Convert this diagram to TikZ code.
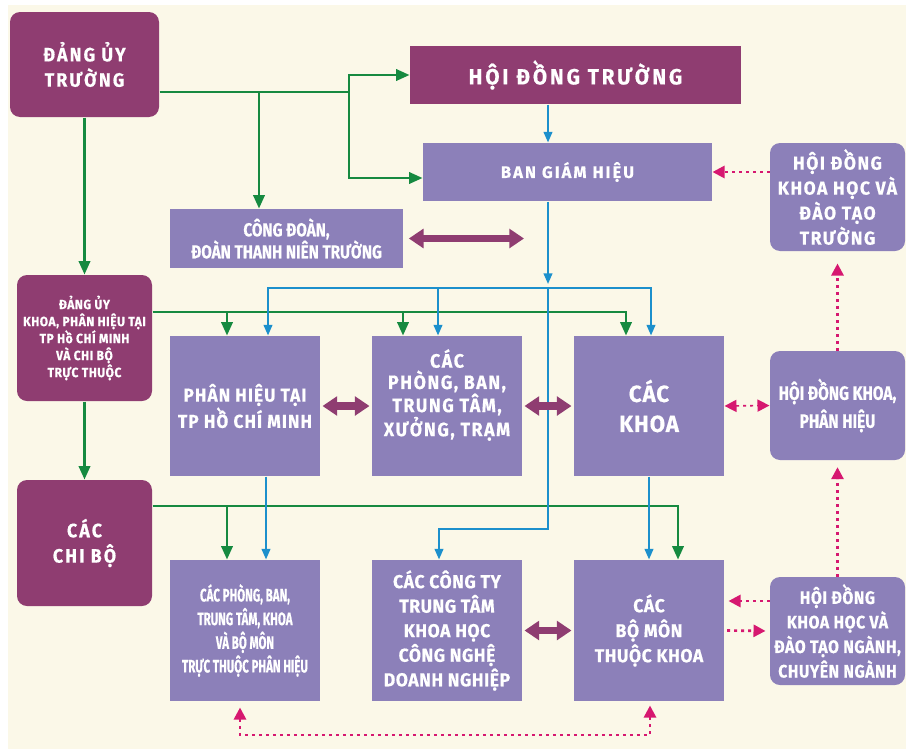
\documentclass[tikz,border=0pt]{standalone}
\usepackage{fontspec}
\setmainfont{Fira Sans}
\newfontfamily\chu{Fira Sans}[FakeBold=0.5]
\usetikzlibrary{arrows.meta,calc}

\definecolor{nen}{RGB}{251,248,232}
\definecolor{dohong}{RGB}{143,61,113}
\definecolor{tim}{RGB}{140,128,185}
\definecolor{xanhla}{RGB}{22,138,64}
\definecolor{xanhduong}{RGB}{28,144,204}
\definecolor{hong}{RGB}{214,24,112}

\tikzset{every picture/.style={line width=0.75pt},
  kt/.style 2 args={minimum width=#1*0.75pt, minimum height=#2*0.75pt},
  dang/.style={fill=dohong, text=white, rounded corners=7.5pt, align=center, inner sep=0pt},
  hop/.style={fill=tim, text=white, align=center, inner sep=0pt},
  hoptron/.style={hop, rounded corners=7.5pt},
  xanh/.style={draw=xanhla, line width=1.8pt, -{Triangle[length=10pt,width=8.5pt]}},
  lam/.style={draw=xanhduong, line width=1.5pt, -{Triangle[length=8pt,width=6.5pt]}},
  hai/.style={draw=dohong, line width=5.5pt, {Triangle[length=11pt,width=14pt]}-{Triangle[length=11pt,width=14pt]}, shorten <=1.5pt, shorten >=1.5pt},
  cham/.style={draw=hong, line width=2pt, dash pattern=on 2.25pt off 3pt, -{Triangle[length=9pt,width=9pt]}},
  chamkep/.style={cham, {Triangle[length=9pt,width=9pt]}-{Triangle[length=9pt,width=9pt]}},
}

\begin{document}
\begin{tikzpicture}[x=0.75pt,y=0.75pt,yscale=-1,xscale=1]
\useasboundingbox (0,0) rectangle (906,753);
%Shape: Rectangle (background)
\fill [nen] (8,5) rectangle (906,749);

% Text Node
\node [dang, kt={149}{105}, font={\chu\bfseries\fontsize{14.5}{19}\selectfont\addfontfeature{FakeStretch=0.92,LetterSpace=11}}] (dut) at (84.5,64.5) {ĐẢNG ỦY\\TRƯỜNG};
% Text Node
\node [dang, rounded corners=0pt, kt={331}{58}, font={\chu\bfseries\fontsize{16.5}{19}\selectfont\addfontfeature{FakeStretch=0.94,LetterSpace=13}}] (hdt) at (575.5,75) {HỘI ĐỒNG TRƯỜNG};
% Text Node
\node [hop, kt={289}{58}, font={\chu\bfseries\fontsize{12.5}{15}\selectfont\addfontfeature{LetterSpace=12}}] (bgh) at (567.5,172) {BAN GIÁM HIỆU};
% Text Node
\node [hop, kt={233}{59}, font={\chu\bfseries\fontsize{14}{16.5}\selectfont\addfontfeature{FakeStretch=0.82}}] (cd) at (286.5,238.5) {CÔNG ĐOÀN,\\ĐOÀN THANH NIÊN TRƯỜNG};
% Text Node
\node [hoptron, kt={135}{108}, font={\chu\bfseries\fontsize{14}{18.75}\selectfont\addfontfeature{FakeStretch=0.94,LetterSpace=8}}] (hdkhdt) at (837.5,197) {HỘI ĐỒNG\\KHOA HỌC VÀ\\ĐÀO TẠO\\TRƯỜNG};
% Text Node
\node [dang, kt={135}{126}, font={\chu\bfseries\fontsize{10}{12.75}\selectfont\addfontfeature{FakeStretch=0.9,LetterSpace=4}}] (duk) at (84.5,338) {ĐẢNG ỦY\\KHOA, PHÂN HIỆU TẠI\\TP Hồ CHÍ MINH\\VÀ CHI BỘ\\TRỰC THUỘC};
% Text Node
\node [hop, kt={150}{140}, font={\chu\bfseries\fontsize{14}{15.5}\selectfont\addfontfeature{FakeStretch=0.92,LetterSpace=6}}] (ph) at (245,406) {PHÂN HIỆU TẠI\\TP HỒ CHÍ MINH};
% Text Node
\node [hop, kt={150}{140}, font={\chu\bfseries\fontsize{14.5}{16}\selectfont\addfontfeature{FakeStretch=0.92,LetterSpace=8}}] (cpb) at (447,406) {CÁC\\PHÒNG, BAN,\\TRUNG TÂM,\\XƯỞNG, TRẠM\\[4pt]};
% Text Node
\node [hop, kt={150}{140}, font={\chu\bfseries\fontsize{17.5}{22.5}\selectfont\addfontfeature{FakeStretch=0.95,LetterSpace=4}}] (ck) at (649,406) {CÁC\\KHOA};
% Text Node
\node [hoptron, kt={135}{109}, font={\chu\bfseries\fontsize{14.5}{21}\selectfont\addfontfeature{FakeStretch=0.8}}] (hdkph) at (837.5,405.5) {HỘI ĐỒNG KHOA,\\PHÂN HIỆU};
% Text Node
\node [dang, kt={135}{126}, font={\chu\bfseries\fontsize{14.5}{19}\selectfont\addfontfeature{FakeStretch=0.92,LetterSpace=11}}] (ccb) at (84.5,543) {CÁC\\CHI BỘ};
% Text Node
\node [hop, kt={150}{141}, font={\chu\bfseries\fontsize{13.5}{17.75}\selectfont\addfontfeature{FakeStretch=0.64}}] (cpbph) at (245,630.5) {CÁC PHÒNG, BAN,\\TRUNG TÂM, KHOA\\VÀ BỘ MÔN\\TRỰC THUỘC PHÂN HIỆU};
% Text Node
\node [hop, kt={150}{141}, font={\chu\bfseries\fontsize{14}{18.4}\selectfont\addfontfeature{FakeStretch=0.94,LetterSpace=3}}] (cct) at (447,630.5) {CÁC CÔNG TY\\TRUNG TÂM\\KHOA HỌC\\CÔNG NGHỆ\\DOANH NGHIỆP};
% Text Node
\node [hop, kt={150}{141}, font={\chu\bfseries\fontsize{14}{18.75}\selectfont\addfontfeature{FakeStretch=0.94,LetterSpace=3}}] (cbm) at (649,630.5) {CÁC\\BỘ MÔN\\THUỘC KHOA};
% Text Node
\node [hoptron, kt={135}{108}, font={\chu\bfseries\fontsize{13.5}{18.4}\selectfont\addfontfeature{FakeStretch=0.88,LetterSpace=3}}] (hdng) at (837.5,631) {HỘI ĐỒNG\\KHOA HỌC VÀ\\ĐÀO TẠO NGÀNH,\\CHUYÊN NGÀNH};

% green lines
\coordinate (g1) at (349,92);
\coordinate (g2) at (259,92);
\draw [xanh, -] (dut.east |- g1) -- (g1);
\draw [xanh] (g1) |- (hdt.west);
\draw [xanh] (g1) |- ([yshift=4.5pt]bgh.west);
\draw [xanh] (g2) -- (g2 |- cd.north);
\draw [xanh] (dut.south) -- (duk.north);
\draw [xanh] (duk.south) -- (ccb.north);
\coordinate (g3) at (626,312);
\coordinate (t1) at ($(ph.north)+(-18,0)$);
\coordinate (t2) at ($(cpb.north)+(-44,0)$);
\draw [xanh] (duk.east |- g3) -- (g3) -- (g3 |- ck.north);
\draw [xanh] (t1 |- g3) -- (t1);
\draw [xanh] (t2 |- g3) -- (t2);
\coordinate (g4) at (678,506);
\coordinate (t3) at ($(cpbph.north)+(-18,0)$);
\draw [xanh] (ccb.east |- g4) -- (g4) -- (g4 |- cbm.north);
\draw [xanh] (t3 |- g4) -- (t3);

% blue lines
\coordinate (b0) at (548,288);
\coordinate (b1) at (548,529);
\coordinate (t4) at ($(ph.north)+(23,0)$);
\coordinate (t5) at ($(cpb.north)+(-9,0)$);
\coordinate (t6) at ($(ck.north)+(2,0)$);
\coordinate (t7) at ($(cct.north)+(-8,0)$);
\coordinate (t8) at ($(ph.south)+(21,0)$);
\draw [lam] (b0 |- hdt.south) -- (b0 |- bgh.north);
\draw [lam] (b0 |- bgh.south) -- ($(b0)+(0,-4)$);
\draw [lam] (b0) -| (t4);
\draw [lam] (b0) -| (t6);
\draw [lam] (t5 |- b0) -- (t5);
\draw [lam] (b0) -- (b1) -| (t7);
\draw [lam] (t8) -- (t8 |- cpbph.north);
\draw [lam] (ck.south) -- (cbm.north);

% double arrows
\coordinate (cdr) at (526,238.5);
\draw [hai, shorten <=4pt] (cd.east) -- (cdr);
\draw [hai] (ph.east) -- (cpb.west);
\draw [hai] (cpb.east) -- (ck.west);
\draw [hai] (cct.east) -- (cbm.west);

% dotted arrows
\coordinate (m1) at ($(hdng.west)+(0,-30)$);
\coordinate (d1) at (240,735);
\coordinate (d2) at (650,735);
\draw [cham] (hdkhdt.west |- bgh.east) -- (bgh.east);
\draw [cham, shorten >=9pt] (hdkph.north) -- (hdkhdt.south);
\draw [chamkep, line width=1.2pt] (ck.east) -- (hdkph.west);
\draw [cham, shorten >=5pt] (hdng.north) -- (hdkph.south);
\draw [cham, shorten >=3pt] (m1) -- (m1 -| cbm.east);
\draw [cham, shorten <=2pt, shorten >=3pt] (cbm.east) -- (hdng.west);
\draw [chamkep, shorten <=4.5pt, shorten >=3pt] (d1 |- cpbph.south) -- (d1) -- (d2) -- (d2 |- cbm.south);

\end{tikzpicture}
\end{document}
